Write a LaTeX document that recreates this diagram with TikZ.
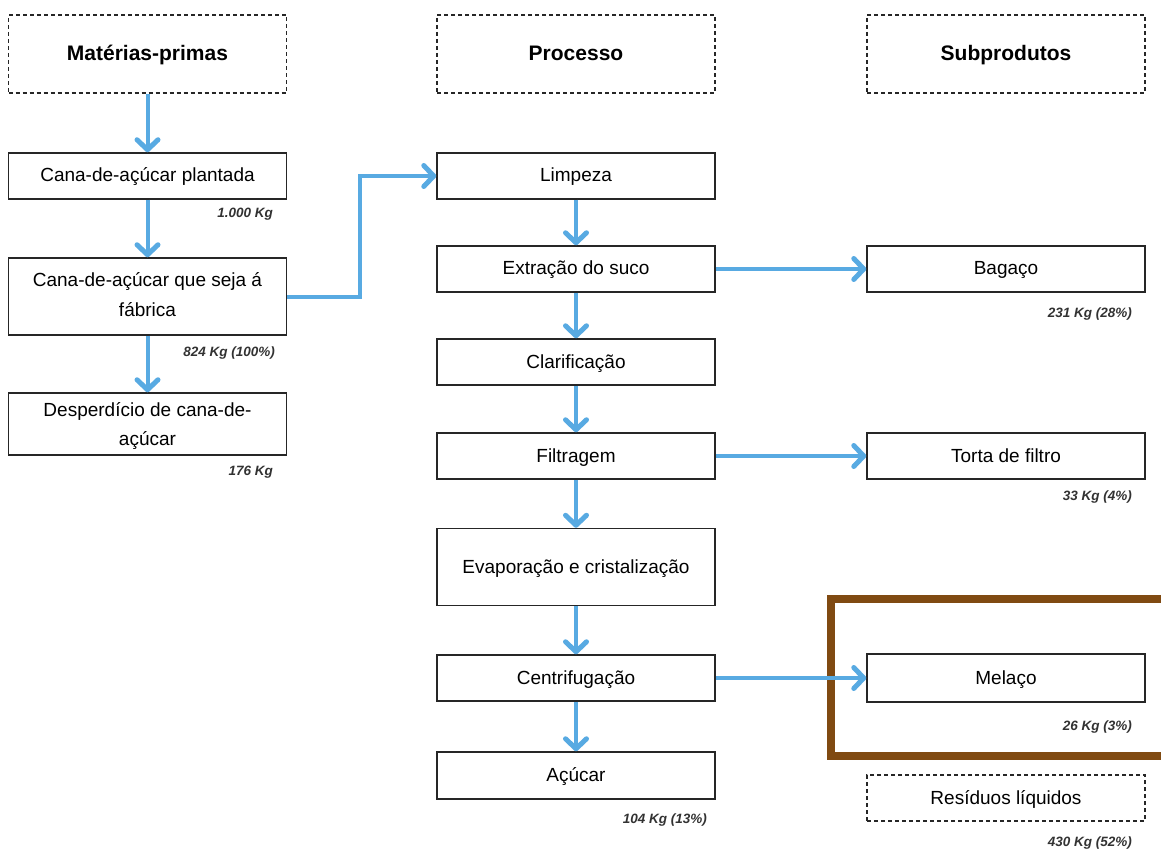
\documentclass[tikz,border=0pt]{standalone}
\usepackage{fontspec}
\setmainfont{Liberation Sans}
\usetikzlibrary{arrows.meta}
\definecolor{flow}{RGB}{88,170,226}
\definecolor{framebrown}{RGB}{128,74,18}
\definecolor{lbl}{RGB}{50,50,50}
\begin{document}
\begin{tikzpicture}[x=1pt,y=-1pt,
 boxbase/.style={draw=black!85, line width=1.5pt, minimum width=278pt, minimum height=46pt, inner sep=0pt, font=\fontsize{19}{29}\selectfont, align=center, fill=white},
 box/.style={boxbase, text height=16pt, text depth=4pt},
 mbox/.style={boxbase},
 headbox/.style={boxbase, dash pattern=on 4pt off 3pt, minimum height=78pt, font=\fontsize{21}{25}\selectfont\bfseries, text height=19pt, text depth=5pt},
 dashbox/.style={box, dash pattern=on 4pt off 3pt},
 qty/.style={anchor=east, inner sep=0pt, text=lbl, font=\fontsize{13.5}{16}\selectfont\bfseries\itshape},
 flowarrow/.style={draw=flow, line width=4pt, -{Straight Barb[length=10pt,width=21pt,line width=1pt 1,round]}}
]
\useasboundingbox (0,0) rectangle (1161,850);

% headers
\node[headbox] (mp) at (147.5,54) {Matérias-primas};
\node[headbox] (proc) at (576,54) {Processo};
\node[headbox] (sub) at (1006,54) {Subprodutos};

% left column
\node[box] (plant) at (147.5,176) {Cana-de-açúcar plantada};
\node[mbox, minimum height=77pt, text height=43pt, text depth=4pt] (fab) at (147.5,296.5) {Cana-de-açúcar que seja á\\fábrica};
\node[mbox, minimum height=62pt, text height=46pt, text depth=4pt] (desp) at (147.5,424) {Desperdício de cana-de-\\açúcar};

% middle column
\node[box] (limp) at (576,176) {Limpeza};
\node[box] (extr) at (576,269) {Extração do suco};
\node[box] (clar) at (576,362) {Clarificação};
\node[box] (filt) at (576,456) {Filtragem};
\node[box, minimum height=77pt] (evap) at (576,567) {Evaporação e cristalização};
\node[box] (cent) at (576,678) {Centrifugação};
\node[box, minimum height=47pt] (acu) at (576,775.5) {Açúcar};

% right column
\node[box] (bag) at (1006,269) {Bagaço};
\node[box] (torta) at (1006,456) {Torta de filtro};
\node[box, minimum height=48pt] (mel) at (1006,678) {Melaço};
\node[dashbox] (res) at (1006,798) {Resíduos líquidos};

% quantities
\node[qty] (q1) at (273,214) {1.000 Kg};
\node[qty] (q2) at (275,353) {824 Kg (100\%)};
\node[qty] (q3) at (273,472) {176 Kg};
\node[qty] (q4) at (707,820) {104 Kg (13\%)};
\node[qty] (q5) at (1132,314) {231 Kg (28\%)};
\node[qty] (q6) at (1132,497) {33 Kg (4\%)};
\node[qty] (q7) at (1132,727) {26 Kg (3\%)};
\node[qty] (q8) at (1132,843) {430 Kg (52\%)};

% brown highlight frame
\draw[framebrown, line width=8pt] (1165,598.5) -- (831,598.5) -- (831,755.5) -- (1165,755.5);

% arrows
\draw[flowarrow] (mp) -- (plant);
\draw[flowarrow] (plant) -- (fab);
\draw[flowarrow] (fab) -- (desp);
\draw[flowarrow] (fab.east) -- ++(73,0) |- (limp.west);
\draw[flowarrow] (limp) -- (extr);
\draw[flowarrow] (extr) -- (clar);
\draw[flowarrow] (clar) -- (filt);
\draw[flowarrow] (filt) -- (evap);
\draw[flowarrow] (evap) -- (cent);
\draw[flowarrow] (cent) -- (acu);
\draw[flowarrow] (extr) -- (bag);
\draw[flowarrow] (filt) -- (torta);
\draw[flowarrow] (cent) -- (mel);
\end{tikzpicture}
\end{document}
